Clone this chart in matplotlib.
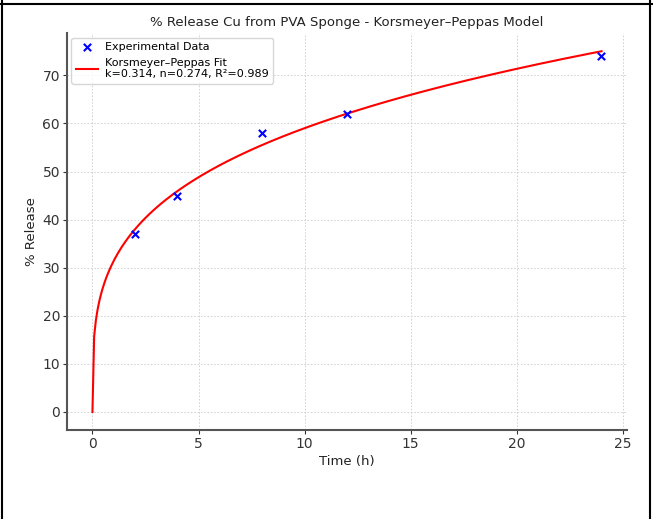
import numpy as np
import matplotlib
matplotlib.use("Agg")
import matplotlib.pyplot as plt
from matplotlib.lines import Line2D

# experimental points
time_h = [2, 4, 8, 12, 24]
release_pct = [37, 45, 58, 62, 74]

# Korsmeyer-Peppas fit parameters (from legend)
k = 0.314
n = 0.274
r2 = 0.989

t_fit = np.linspace(0, 24, 300)
fit_pct = 100 * k * t_fit ** n

fig = plt.figure(figsize=(6.53, 5.19), dpi=100)
ax = fig.add_axes([0.1026, 0.1715, 0.8575, 0.7645])

ax.scatter(time_h, release_pct, marker="x", color="blue", s=28, linewidths=1.5,
           label="Experimental Data", zorder=3)
ax.plot(t_fit, fit_pct, color="red", linewidth=1.5,
        label="Korsmeyer\u2013Peppas Fit\nk={:.3f}, n={:.3f}, R\u00b2={:.3f}".format(k, n, r2))

ax.set_title("% Release Cu from PVA Sponge - Korsmeyer\u2013Peppas Model", fontsize=9.5,
             color="#222222", pad=5)
ax.set_xlabel("Time (h)", fontsize=9.5, color="#222222", labelpad=3)
ax.set_ylabel("% Release", fontsize=9.5, color="#222222", labelpad=3)
ax.tick_params(labelsize=10, length=3, pad=2, colors="#333333")
ax.grid(True, linestyle=(0, (2, 2)), linewidth=0.6, color="#cccccc")
for s in ["top", "right"]:
    ax.spines[s].set_visible(False)
ax.spines["left"].set_color("#555555")
ax.spines["bottom"].set_color("#555555")
ax.spines["left"].set_linewidth(1.5)
ax.spines["bottom"].set_linewidth(1.5)
ax.legend(loc="upper left", fontsize=8, handletextpad=0.6, borderaxespad=0.4)

# screenshot frame
fig.add_artist(Line2D([0, 1], [0.992, 0.992], transform=fig.transFigure, color="black", linewidth=1.5))
fig.add_artist(Line2D([0.003, 0.003], [0, 1], transform=fig.transFigure, color="black", linewidth=1.5))
fig.add_artist(Line2D([0.996, 0.996], [0, 1], transform=fig.transFigure, color="black", linewidth=1.5))

fig.savefig("out.png", dpi=100)
